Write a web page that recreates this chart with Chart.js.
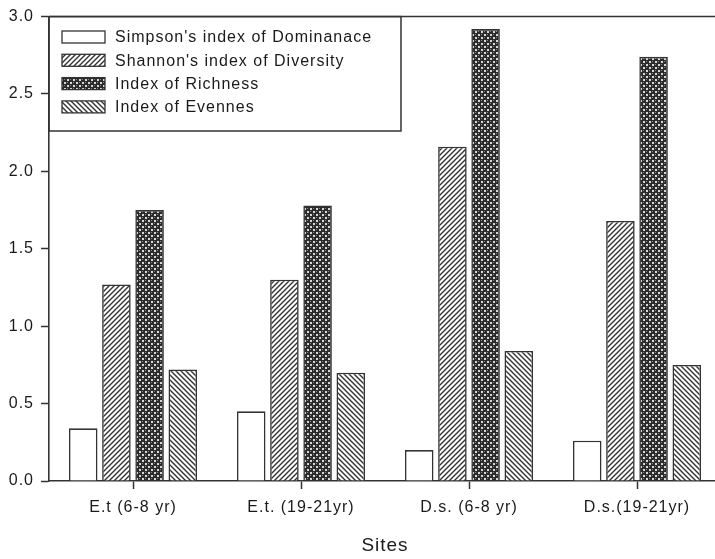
<!DOCTYPE html>
<html>
<head>
<meta charset="utf-8">
<script src="https://cdn.jsdelivr.net/npm/chart.js@4"></script>
<style>
  html, body { margin: 0; padding: 0; background: #fff; overflow: hidden; }
</style>
</head>
<body>
<canvas id="myChart" width="730" height="559"></canvas>
<script>
'use strict';
// site names on the x axis
var sites = ['E.t (6-8 yr)', 'E.t. (19-21yr)', 'D.s. (6-8 yr)', 'D.s.(19-21yr)'];
// the four indices (one bar each per site)
var indexNames = ["Simpson's index of Dominanace", "Shannon's index of Diversity", 'Index of Richness', 'Index of Evennes'];
var simpson = [0.34, 0.45, 0.20, 0.26];
var shannon = [1.27, 1.30, 2.16, 1.68];
var richness = [1.75, 1.78, 2.92, 2.74];
var evenness = [0.72, 0.70, 0.84, 0.75];
var yTicks = [0, 0.5, 1.0, 1.5, 2.0, 2.5, 3.0];

var ink = '#333';

//make a little tile and repeat it as the bar fill
function hatch(dir) {
  var s = 5;
  var c = document.createElement('canvas');
  c.width = s; c.height = s;
  var g = c.getContext('2d');
  g.fillStyle = '#fff';
  g.fillRect(0, 0, s, s);
  g.strokeStyle = ink;
  g.lineWidth = 1.4;
  g.beginPath();
  if (dir === '/') {
    g.moveTo(-1, s + 1); g.lineTo(s + 1, -1);
    g.moveTo(-1, 1); g.lineTo(1, -1);
    g.moveTo(s - 1, s + 1); g.lineTo(s + 1, s - 1);
  } else {
    g.moveTo(-1, -1); g.lineTo(s + 1, s + 1);
    g.moveTo(s - 1, -1); g.lineTo(s + 1, 1);
    g.moveTo(-1, s - 1); g.lineTo(1, s + 1);
  }
  g.stroke();
  return g.createPattern(c, 'repeat');
}

function dots() {
  var c = document.createElement('canvas');
  c.width = 6; c.height = 6;
  var g = c.getContext('2d');
  g.fillStyle = '#2b2b2b';
  g.fillRect(0, 0, 6, 6);
  g.fillStyle = '#d8d8d8';
  g.fillRect(1, 1, 2, 2);
  g.fillRect(4, 4, 2, 2);
  g.fillStyle = '#888';
  g.fillRect(4, 1, 1, 1);
  g.fillRect(1, 4, 1, 1);
  return g.createPattern(c, 'repeat');
}

var fills = ['#fff', hatch('/'), dots(), hatch('\\')];
var series = [simpson, shannon, richness, evenness];

var datasets = [];
for (var i = 0; i < series.length; i++) {
  datasets.push({
    label: indexNames[i],
    data: series[i],
    backgroundColor: fills[i],
    borderColor: ink,
    borderWidth: 1.6,
    categoryPercentage: 0.79,
    barPercentage: 0.86
  });
}

// legend box drawn inside the plot, top left
var boxLegend = {
  id: 'boxLegend',
  afterDraw: function(chart) {
    var ctx = chart.ctx;
    var a = chart.chartArea;
    ctx.save();
    ctx.strokeStyle = ink;
    ctx.lineWidth = 1.5;
    // frame top line + right side
    ctx.beginPath();
    ctx.moveTo(a.left, a.top);
    ctx.lineTo(a.right, a.top);
    ctx.lineTo(a.right, a.bottom);
    ctx.stroke();
    // legend frame
    ctx.strokeRect(a.left, a.top, 401 - a.left, 131 - a.top);
    ctx.font = '16px "Liberation Sans", Arial, sans-serif';
    ctx.letterSpacing = '1px';
    ctx.textBaseline = 'middle';
    var ds = chart.data.datasets;
    for (var j = 0; j < ds.length; j++) {
      var y = 37 + j * 23.3;
      ctx.fillStyle = ds[j].backgroundColor;
      ctx.fillRect(62, y - 6, 43, 12);
      ctx.lineWidth = 1.3;
      ctx.strokeRect(62, y - 6, 43, 12);
      ctx.fillStyle = '#1a1a1a';
      ctx.fillText(ds[j].label, 115, y + 1);
    }
    ctx.restore();
  }
};

var spacing = {
  id: 'spacing',
  beforeDraw: function(chart) {
    chart.ctx.letterSpacing = '1px';
  }
};

var ctx = document.getElementById('myChart').getContext('2d');
new Chart(ctx, {
  type: 'bar',
  data: {
    labels: sites,
    datasets: datasets
  },
  plugins: [spacing, boxLegend],
  options: {
    responsive: false,
    animation: false,
    layout: { padding: { top: 15, right: 9, left: 0, bottom: 0 } },
    plugins: {
      legend: { display: false },
      tooltip: { enabled: false }
    },
    scales: {
      x: {
        afterFit: function(s) { s.height = 78; },
        grid: {
          offset: false,
          drawOnChartArea: false,
          drawTicks: true,
          tickLength: 8,
          tickColor: ink,
          tickWidth: 1.5
        },
        border: { color: ink, width: 1.6 },
        ticks: {
          color: '#1a1a1a',
          padding: 9,
          maxRotation: 0,
          font: { family: '"Liberation Sans", Arial, sans-serif', size: 16 }
        },
        title: {
          display: true,
          text: 'Sites',
          color: '#1a1a1a',
          padding: { top: 0, bottom: 2 },
          font: { family: '"Liberation Sans", Arial, sans-serif', size: 19 }
        }
      },
      y: {
        min: 0,
        max: 3,
        afterFit: function(s) { s.width = 49; },
        afterBuildTicks: function(s) {
          s.ticks = yTicks.map(function(v) { return { value: v }; });
        },
        grid: {
          drawOnChartArea: false,
          drawTicks: true,
          tickLength: 8,
          tickColor: ink,
          tickWidth: 1.5
        },
        border: { color: ink, width: 1.6 },
        ticks: {
          color: '#1a1a1a',
          padding: 7,
          font: { family: '"Liberation Sans", Arial, sans-serif', size: 16 },
          callback: function(v) { return Number(v).toFixed(1); }
        }
      }
    }
  }
});
</script>
</body>
</html>
